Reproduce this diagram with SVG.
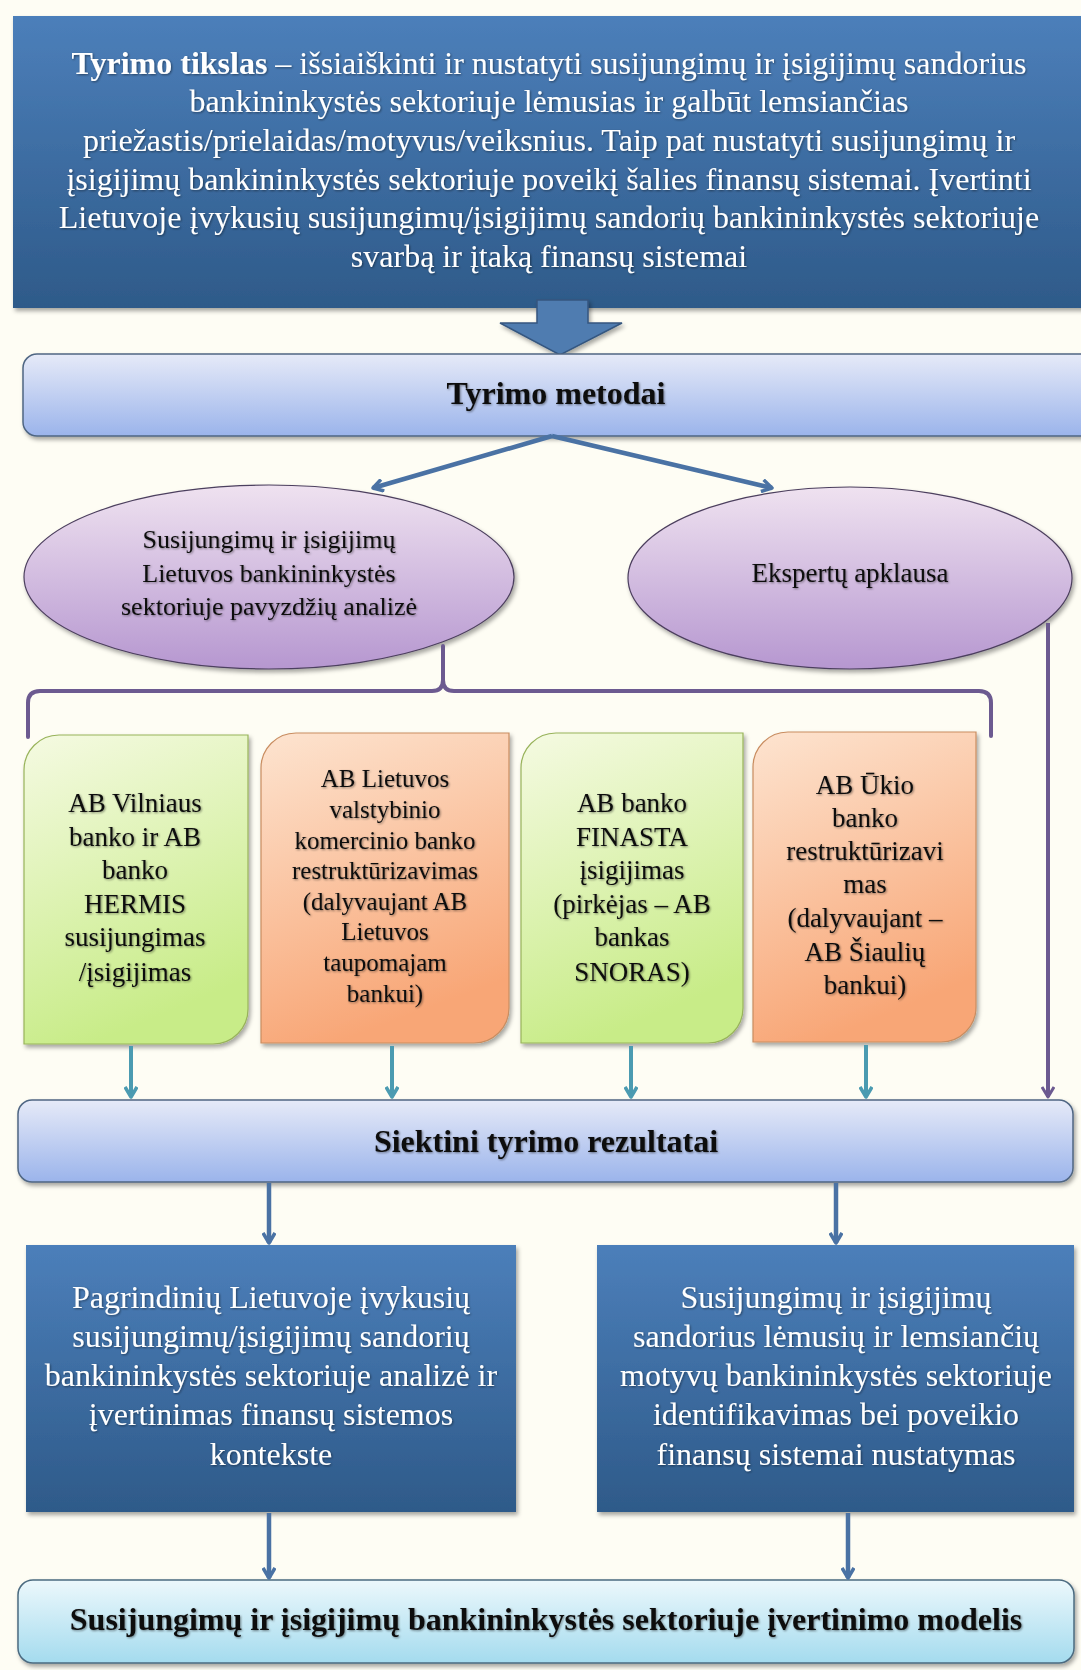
<svg xmlns="http://www.w3.org/2000/svg" width="1081" height="1670" viewBox="0 0 1081 1670">
<defs>
<linearGradient id="gDark" x1="0" y1="0" x2="0" y2="1"><stop offset="0" stop-color="#4c7fba"/><stop offset="1" stop-color="#2e5a89"/></linearGradient>
<linearGradient id="gLav" x1="0" y1="0" x2="0" y2="1"><stop offset="0" stop-color="#e6eaf8"/><stop offset="1" stop-color="#9bb4eb"/></linearGradient>
<linearGradient id="gEll" x1="0" y1="0" x2="0" y2="1"><stop offset="0" stop-color="#efe2f0"/><stop offset="1" stop-color="#b697d0"/></linearGradient>
<linearGradient id="gGreen" x1="0" y1="0" x2="0.3" y2="1"><stop offset="0" stop-color="#f5fae2"/><stop offset="1" stop-color="#c8ec88"/></linearGradient>
<linearGradient id="gOrange" x1="0" y1="0" x2="0.3" y2="1"><stop offset="0" stop-color="#fde4d0"/><stop offset="1" stop-color="#f8a676"/></linearGradient>
<linearGradient id="gCyan" x1="0" y1="0" x2="0" y2="1"><stop offset="0" stop-color="#ecf8fc"/><stop offset="1" stop-color="#a4dbee"/></linearGradient>
<filter id="sh" x="-5%" y="-5%" width="110%" height="115%"><feDropShadow dx="2" dy="3" stdDeviation="2" flood-color="#000" flood-opacity="0.35"/></filter>
<filter id="tsh" x="-5%" y="-20%" width="110%" height="140%"><feDropShadow dx="1" dy="1" stdDeviation="0.8" flood-color="#000" flood-opacity="0.45"/></filter>
<marker id="aBlue" viewBox="0 0 14 14" refX="12" refY="7" markerWidth="14" markerHeight="14" markerUnits="userSpaceOnUse" orient="auto"><path d="M2,1 L12,7 L2,13" fill="none" stroke="#4a72a4" stroke-width="3.5" stroke-linejoin="round"/></marker>
<marker id="aTeal" viewBox="0 0 14 14" refX="12" refY="7" markerWidth="14" markerHeight="14" markerUnits="userSpaceOnUse" orient="auto"><path d="M2,1 L12,7 L2,13" fill="none" stroke="#4b9bb1" stroke-width="3.5" stroke-linejoin="round"/></marker>
<marker id="aPurp" viewBox="0 0 14 14" refX="12" refY="7" markerWidth="14" markerHeight="14" markerUnits="userSpaceOnUse" orient="auto"><path d="M2,1 L12,7 L2,13" fill="none" stroke="#6c5a90" stroke-width="3" stroke-linejoin="round"/></marker>
<style>
text{font-family:"Liberation Serif","Times New Roman",serif;text-anchor:middle}
.w{fill:#ffffff}
.k{fill:#111111}
.b{font-weight:bold}
.dk{fill:url(#gDark);filter:url(#sh)}
.lav{fill:url(#gLav);stroke:#4f6683;stroke-width:1.5;filter:url(#sh)}
.ell{fill:url(#gEll);stroke:#4c3f5e;stroke-width:1.2;filter:url(#sh)}
.gr{fill:url(#gGreen);stroke:#98b35a;stroke-width:1.2;filter:url(#sh)}
.or{fill:url(#gOrange);stroke:#c98d60;stroke-width:1.2;filter:url(#sh)}
.cy{fill:url(#gCyan);stroke:#4b6b80;stroke-width:1.5;filter:url(#sh)}
.cb{fill:none;stroke:#4a72a4;stroke-width:4.5}
.ct{fill:none;stroke:#4b9bb1;stroke-width:4}
.cp{fill:none;stroke:#6c5a90;stroke-width:4}
</style>
</defs>
<rect width="1081" height="1670" fill="#fefdf4"/>

<g id="goal">
<rect class="dk" x="13" y="16" width="1080" height="292"/>
<g class="w" font-size="32" filter="url(#tsh)">
<text x="549" y="74"><tspan class="b">Tyrimo tikslas</tspan> – išsiaiškinti ir nustatyti susijungimų ir įsigijimų sandorius</text>
<text x="549" y="112">bankininkystės sektoriuje lėmusias ir galbūt lemsiančias</text>
<text x="549" y="151">priežastis/prielaidas/motyvus/veiksnius. Taip pat nustatyti susijungimų ir</text>
<text x="549" y="190">įsigijimų bankininkystės sektoriuje poveikį šalies finansų sistemai. Įvertinti</text>
<text x="549" y="228">Lietuvoje įvykusių susijungimų/įsigijimų sandorių bankininkystės sektoriuje</text>
<text x="549" y="267">svarbą ir įtaką finansų sistemai</text>
</g>
</g>

<g id="bigArrow">
<path d="M537,300 H588 V323 H622 L560,355 L500,323 H537 Z" fill="#4f7bb0" stroke="#34567f" stroke-width="1.5" filter="url(#sh)"/>
</g>

<g id="methods">
<rect class="lav" x="23" y="354" width="1075" height="82" rx="14"/>
<text class="k b" x="556" y="404" font-size="32" filter="url(#tsh)">Tyrimo metodai</text>
</g>

<g id="caseAnalysis">
<ellipse class="ell" cx="269" cy="577" rx="245" ry="92"/>
<g class="k" font-size="26" filter="url(#tsh)">
<text x="269" y="548">Susijungimų ir įsigijimų</text>
<text x="269" y="582">Lietuvos bankininkystės</text>
<text x="269" y="615">sektoriuje pavyzdžių analizė</text>
</g>
</g>

<g id="expertSurvey">
<ellipse class="ell" cx="850" cy="578" rx="222" ry="91"/>
<text class="k" x="850" y="582" font-size="27" filter="url(#tsh)">Ekspertų apklausa</text>
</g>

<g id="case1">
<path class="gr" d="M59,735 H248 V1009 A35,35 0 0 1 213,1044 H24 V770 A35,35 0 0 1 59,735 Z"/>
<g class="k" font-size="27" filter="url(#tsh)">
<text x="135" y="812">AB Vilniaus</text>
<text x="135" y="846">banko ir AB</text>
<text x="135" y="879">banko</text>
<text x="135" y="913">HERMIS</text>
<text x="135" y="946">susijungimas</text>
<text x="135" y="981">/įsigijimas</text>
</g>
</g>

<g id="case2">
<path class="or" d="M296,733 H509 V1008 A35,35 0 0 1 474,1043 H261 V768 A35,35 0 0 1 296,733 Z"/>
<g class="k" font-size="25" filter="url(#tsh)">
<text x="385" y="787">AB Lietuvos</text>
<text x="385" y="818">valstybinio</text>
<text x="385" y="849">komercinio banko</text>
<text x="385" y="879">restruktūrizavimas</text>
<text x="385" y="910">(dalyvaujant AB</text>
<text x="385" y="940">Lietuvos</text>
<text x="385" y="971">taupomajam</text>
<text x="385" y="1002">bankui)</text>
</g>
</g>

<g id="case3">
<path class="gr" d="M556,733 H743 V1008 A35,35 0 0 1 708,1043 H521 V768 A35,35 0 0 1 556,733 Z"/>
<g class="k" font-size="27" filter="url(#tsh)">
<text x="632" y="812">AB banko</text>
<text x="632" y="846">FINASTA</text>
<text x="632" y="879">įsigijimas</text>
<text x="632" y="913">(pirkėjas – AB</text>
<text x="632" y="946">bankas</text>
<text x="632" y="981">SNORAS)</text>
</g>
</g>

<g id="case4">
<path class="or" d="M788,732 H976 V1007 A35,35 0 0 1 941,1042 H753 V767 A35,35 0 0 1 788,732 Z"/>
<g class="k" font-size="27" filter="url(#tsh)">
<text x="865" y="794">AB Ūkio</text>
<text x="865" y="827">banko</text>
<text x="865" y="860">restruktūrizavi</text>
<text x="865" y="893">mas</text>
<text x="865" y="927">(dalyvaujant –</text>
<text x="865" y="961">AB Šiaulių</text>
<text x="865" y="994">bankui)</text>
</g>
</g>

<g id="results">
<rect class="lav" x="18" y="1100" width="1055" height="82" rx="14"/>
<text class="k b" x="546" y="1152" font-size="32" filter="url(#tsh)">Siektini tyrimo rezultatai</text>
</g>

<g id="result1">
<rect class="dk" x="26" y="1245" width="490" height="267"/>
<g class="w" font-size="32" filter="url(#tsh)">
<text x="271" y="1308">Pagrindinių Lietuvoje įvykusių</text>
<text x="271" y="1347">susijungimų/įsigijimų sandorių</text>
<text x="271" y="1386">bankininkystės sektoriuje analizė ir</text>
<text x="271" y="1425">įvertinimas finansų sistemos</text>
<text x="271" y="1465">kontekste</text>
</g>
</g>

<g id="result2">
<rect class="dk" x="597" y="1245" width="477" height="267"/>
<g class="w" font-size="32" filter="url(#tsh)">
<text x="836" y="1308">Susijungimų ir įsigijimų</text>
<text x="836" y="1347">sandorius lėmusių ir lemsiančių</text>
<text x="836" y="1386">motyvų bankininkystės sektoriuje</text>
<text x="836" y="1425">identifikavimas bei poveikio</text>
<text x="836" y="1465">finansų sistemai nustatymas</text>
</g>
</g>

<g id="model">
<rect class="cy" x="18" y="1580" width="1056" height="83" rx="15"/>
<text class="k b" x="546" y="1630" font-size="32" filter="url(#tsh)">Susijungimų ir įsigijimų bankininkystės sektoriuje įvertinimo modelis</text>
</g>

<g id="connectors">
<path class="cb" d="M552,436 L373,488" marker-end="url(#aBlue)"/>
<path class="cb" d="M552,436 L772,488" marker-end="url(#aBlue)"/>
<path class="cp" d="M28,737 V703 Q28,691 40,691 H432 Q443,691 443,680 V646 M443,680 Q443,691 454,691 H979 Q991,691 991,703 V736" stroke-linecap="round"/>
<path class="cp" d="M1048,623 V1097" marker-end="url(#aPurp)"/>
<path class="ct" d="M131,1046 V1097" marker-end="url(#aTeal)"/>
<path class="ct" d="M392,1046 V1097" marker-end="url(#aTeal)"/>
<path class="ct" d="M631,1046 V1097" marker-end="url(#aTeal)"/>
<path class="ct" d="M866,1045 V1097" marker-end="url(#aTeal)"/>
<path class="cb" d="M269,1183 V1243" marker-end="url(#aBlue)"/>
<path class="cb" d="M836,1183 V1243" marker-end="url(#aBlue)"/>
<path class="cb" d="M269,1513 V1578" marker-end="url(#aBlue)"/>
<path class="cb" d="M848,1513 V1578" marker-end="url(#aBlue)"/>
</g>
</svg>
